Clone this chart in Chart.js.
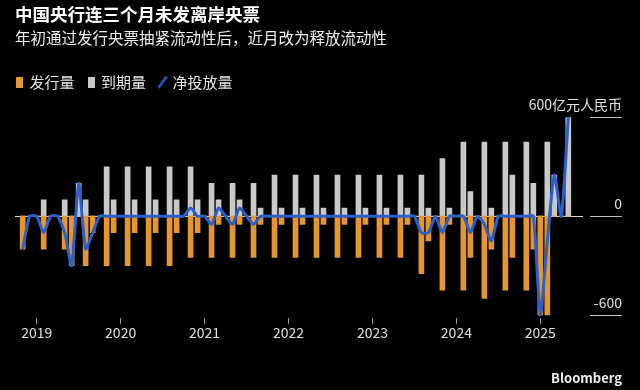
<!DOCTYPE html>
<html>
<head>
<meta charset="utf-8">
<script src="https://cdn.jsdelivr.net/npm/chart.js@4.4.1/dist/chart.umd.min.js"></script>
<style>
  html, body { margin: 0; padding: 0; background: #000; }
  #wrap { width: 640px; height: 390px; }
</style>
</head>
<body>
<div id="wrap"><canvas id="myChart" width="640" height="390"></canvas></div>
<script>
const FONT = '"Noto Sans CJK SC", "Noto Sans", sans-serif';

// months from 2018-11 to 2025-05
const months = [];
for (let y = 2018, m = 11; ; m++) {
  if (m > 12) { m = 1; y++; }
  months.push(y + '-' + String(m).padStart(2, '0'));
  if (y === 2025 && m === 5) break;
}

// 到期量 (亿元)
const maturity = [
  0, 0, 0, 100, 0, 0, 100, 0, 200, 100, 0, 0,      // 2018-11 .. 2019-10
  300, 100, 0, 300, 100, 0, 300, 100, 0, 300, 100, 0, // 2019-11 .. 2020-10
  300, 100, 0, 200, 100, 0, 200, 100, 0, 200, 50, 0,  // 2020-11 .. 2021-10
  250, 50, 0, 250, 50, 0, 250, 50, 0, 250, 50, 0,     // 2021-11 .. 2022-10
  250, 50, 0, 250, 50, 0, 250, 50, 0, 250, 50, 0,     // 2022-11 .. 2023-10
  350, 50, 0, 450, 150, 0, 450, 50, 0, 450, 250, 0,   // 2023-11 .. 2024-10
  450, 200, 0, 450, 250, 0, 600                       // 2024-11 .. 2025-05
];

// 发行量 (亿元, 负值)
const issuance = [
  -200, 0, 0, -200, 0, 0, -200, -300, 0, -300, -100, 0,
  -300, -100, 0, -300, -100, 0, -300, -100, 0, -300, -100, 0,
  -250, -100, 0, -250, -50, 0, -250, -50, 0, -250, -50, 0,
  -250, -50, 0, -250, -50, 0, -250, -50, 0, -250, -50, 0,
  -250, -50, 0, -250, -50, 0, -250, -50, 0, -350, -150, 0,
  -450, -50, 0, -450, -250, 0, -500, -200, 0, -450, -250, 0,
  -450, -200, -600, -600, 0, 0, 0
];

// 净投放量 (亿元)
const netInjection = [
  -200, 0, 0, -100, 0, 0, -100, -300, 200, -200, -100, 0,
  0, 0, 0, 0, 0, 0, 0, 0, 0, 0, 0, 0,
  50, 0, 0, -50, 50, 0, -50, 50, 0, -50, 0, 0,
  0, 0, 0, 0, 0, 0, 0, 0, 0, 0, 0, 0,
  0, 0, 0, 0, 0, 0, 0, 0, 0, -100, -100, 0,
  -100, 0, 0, 0, -100, 0, -50, -150, 0, 0, 0, 0,
  0, 0, -600, -150, 250, 0, 600
];

const yearLabels = ['2019', '2020', '2021', '2022', '2023', '2024', '2025'];
const yTicks = [600, 0, -600];
const yTickLabels = ['600亿元人民币', '0', '-600'];

const seriesNames = ['发行量', '到期量', '净投放量'];
const colors = ['#e6962f', '#c9c9c9', '#2b60cc'];

const toPoints = arr => arr.map((v, i) => ({ x: i, y: v }));
const janIndex = yearLabels.map(y => months.indexOf(y + '-01'));

// legend markers
function marker(kind, color) {
  const c = document.createElement('canvas');
  if (kind === 'box') {
    c.width = 7; c.height = 11;
    const g = c.getContext('2d');
    g.fillStyle = color;
    g.fillRect(0, 0, 7, 11);
  } else {
    c.width = 10; c.height = 13;
    const g = c.getContext('2d');
    g.strokeStyle = color;
    g.lineWidth = 2.5;
    g.beginPath();
    g.moveTo(1, 12);
    g.lineTo(9, 1);
    g.stroke();
  }
  return c;
}
const markers = [marker('box', colors[0]), marker('box', colors[1]), marker('line', colors[2])];

const sidePlugin = {
  id: 'side',
  beforeInit(chart) {
    const legend = chart.legend;
    if (legend) {
      const fit = legend.fit;
      legend.fit = function () {
        fit.call(this);
        this.height += 8;
      };
    }
  },
  afterLayout(chart) {
    if (chart.legend) {
      chart.legend.left -= 12;
      chart.legend.right -= 12;
    }
  },
  beforeDatasetsDraw(chart) {
    const { ctx, chartArea, scales } = chart;
    const y0 = Math.round(scales.y.getPixelForValue(0)) + 0.5;
    ctx.save();
    ctx.strokeStyle = '#d8d8d8';
    ctx.lineWidth = 1;
    ctx.beginPath();
    ctx.moveTo(chartArea.left, y0);
    ctx.lineTo(chartArea.right, y0);
    ctx.stroke();
    ctx.restore();
  },
  afterDraw(chart) {
    const { ctx, scales } = chart;
    ctx.save();
    ctx.font = '14px ' + FONT;
    ctx.textAlign = 'right';
    ctx.textBaseline = 'alphabetic';
    yTicks.forEach((v, i) => {
      const py = Math.round(scales.y.getPixelForValue(v)) + 0.5;
      ctx.strokeStyle = '#bdbdbd';
      ctx.lineWidth = 1;
      ctx.beginPath();
      ctx.moveTo(590, py);
      ctx.lineTo(622, py);
      ctx.stroke();
      ctx.fillStyle = '#e0e0e0';
      ctx.fillText(yTickLabels[i], 622, py - 8);
    });
    ctx.font = 'bold 13px ' + FONT;
    ctx.fillStyle = '#f0f0f0';
    ctx.fillText('Bloomberg', 622, 383);
    ctx.restore();
  }
};

const ctx = document.getElementById('myChart').getContext('2d');

const data = {
  datasets: [
    {
      type: 'bar',
      label: seriesNames[0],
      data: toPoints(issuance),
      backgroundColor: colors[0],
      barThickness: 5,
      grouped: false,
      order: 2
    },
    {
      type: 'bar',
      label: seriesNames[1],
      data: toPoints(maturity),
      backgroundColor: colors[1],
      barThickness: 5,
      grouped: false,
      order: 2
    },
    {
      type: 'line',
      label: seriesNames[2],
      data: toPoints(netInjection),
      borderColor: colors[2],
      backgroundColor: colors[2],
      borderWidth: 3,
      pointRadius: 0,
      tension: 0.2,
      order: 0
    }
  ]
};

const config = {
  data: data,
  options: {
    responsive: false,
    animation: false,
    layout: {
      padding: { left: 15, right: 57, top: 4, bottom: 49 }
    },
    plugins: {
      title: {
        display: true,
        text: '中国央行连三个月未发离岸央票',
        align: 'start',
        color: '#ffffff',
        font: { size: 17.5, weight: 'bold', family: FONT },
        padding: { top: 0, bottom: 2 }
      },
      subtitle: {
        display: true,
        text: '年初通过发行央票抽紧流动性后，近月改为释放流动性',
        align: 'start',
        color: '#f0f0f0',
        font: { size: 15.5, family: FONT },
        padding: { top: 2, bottom: 13 }
      },
      legend: {
        display: true,
        align: 'start',
        labels: {
          color: '#e6e6e6',
          font: { size: 15, family: FONT },
          usePointStyle: true,
          boxWidth: 5,
          padding: 14,
          sort: (a, b) => a.datasetIndex - b.datasetIndex,
          generateLabels(chart) {
            const items = Chart.defaults.plugins.legend.labels.generateLabels(chart);
            items.forEach(it => { it.pointStyle = markers[it.datasetIndex]; });
            return items;
          }
        }
      },
      tooltip: { enabled: false }
    },
    scales: {
      x: {
        type: 'linear',
        offset: false,
        min: -1.1,
        max: 80.1,
        afterBuildTicks: scale => {
          scale.ticks = janIndex.map(v => ({ value: v }));
        },
        ticks: {
          color: '#e0e0e0',
          font: { size: 14, family: FONT },
          autoSkip: false,
          maxRotation: 0,
          padding: 0,
          callback: value => yearLabels[janIndex.indexOf(value)]
        },
        grid: {
          offset: false,
          drawOnChartArea: false,
          tickLength: 6,
          color: '#9a9a9a'
        },
        border: { display: false }
      },
      y: {
        display: false,
        min: -620,
        max: 660
      }
    }
  },
  plugins: [sidePlugin]
};

const myChart = new Chart(ctx, config);
</script>
</body>
</html>
